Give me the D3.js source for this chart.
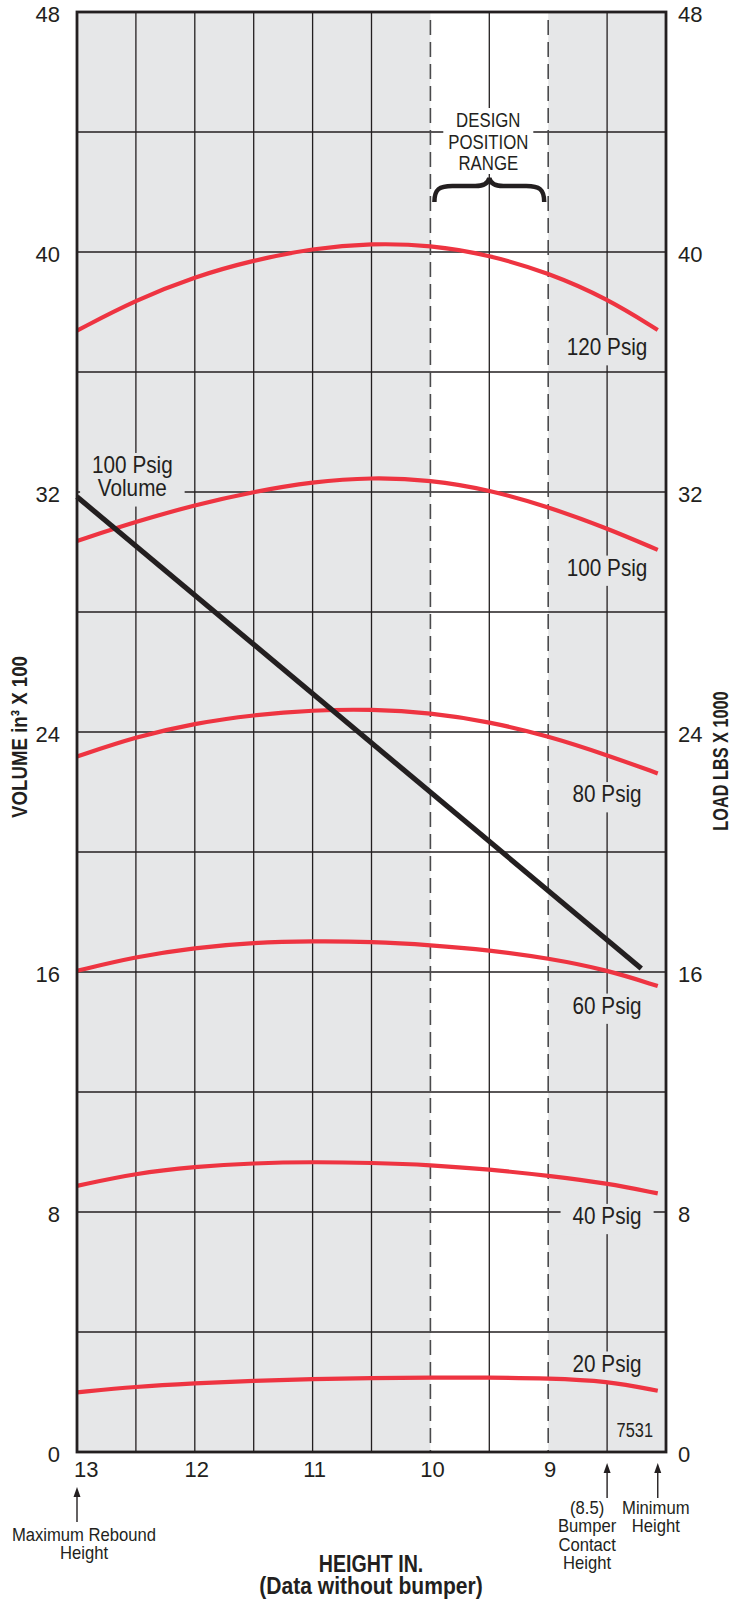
<!DOCTYPE html>
<html>
<head>
<meta charset="utf-8">
<script src="https://cdn.jsdelivr.net/npm/d3@7"></script>
<style>
  body { margin: 0; background: #fff; }
  svg { display: block; }
  text { fill: #231f20; font-family: "Liberation Sans", Arial, sans-serif; }
</style>
</head>
<body>
<div id="chart"></div>
<script>
// height (in) at which each load was read, 13 = max rebound, 8.07 = minimum height
var heights = [13, 12.5, 12, 11.5, 11, 10.5, 10, 9.5, 9, 8.5, 8.07];

// load, lbs x 1000
var load120 = [37.38, 38.40, 39.18, 39.73, 40.12, 40.29, 40.23, 39.90, 39.31, 38.45, 37.40];
var load100 = [30.37, 31.01, 31.57, 32.01, 32.34, 32.49, 32.40, 32.07, 31.51, 30.79, 30.07];
var load80 = [23.18, 23.84, 24.29, 24.57, 24.73, 24.76, 24.64, 24.34, 23.87, 23.23, 22.62];
var load60 = [16.04, 16.51, 16.81, 16.98, 17.03, 17.01, 16.90, 16.73, 16.46, 16.07, 15.53];
var load40 = [8.87, 9.29, 9.51, 9.63, 9.67, 9.64, 9.57, 9.42, 9.21, 8.96, 8.62];
var load20 = [1.99, 2.18, 2.29, 2.38, 2.43, 2.47, 2.48, 2.48, 2.46, 2.37, 2.04];
var pressures = ["120 Psig", "100 Psig", "80 Psig", "60 Psig", "40 Psig", "20 Psig"];

// volume at 100 psig, in3 x 100
var volumeHeights = [13, 8.21];
var volume100 = [31.84, 16.12];

var xTicks = [13, 12, 11, 10, 9];
var xGrid = [12.5, 12, 11.5, 11, 10.5, 9.5, 8.5];
var yTicks = [0, 8, 16, 24, 32, 40, 48];
var yGrid = [4, 8, 12, 16, 20, 24, 28, 32, 36, 40, 44];
var designRange = [10, 9];
var bumperHeight = 8.5;
var minHeight = 8.07;

// where the pressure labels sit (load value of the label centre, at 8.5 in)
var labelLoads = [36.83, 29.48, 21.93, 14.88, 7.87, 2.95];

var margin = {top: 12, right: 66, bottom: 151, left: 77},
  width = 732 - margin.left - margin.right,
  height = 1603 - margin.top - margin.bottom;

var ink = "#231f20", panel = "#e6e7e8", red = "#ee3441";

var x = d3.scaleLinear().domain([13, 8]).range([0, width]);
var y = d3.scaleLinear().domain([0, 48]).range([height, 0]);

var root = d3.select("#chart").append("svg")
    .attr("width", 732)
    .attr("height", 1603);

var svg = root.append("g")
    .attr("transform", "translate(" + margin.left + "," + margin.top + ")");

// condensed text: the original uses a condensed face, so squeeze horizontally
function ctext(parent, px, py, lines, size, sx, opts) {
  opts = opts || {};
  var g = parent.append("g")
      .attr("transform", "translate(" + px + "," + py + ")" + (opts.rotate ? " rotate(" + opts.rotate + ")" : "") + " scale(" + sx + ",1)");
  var t = g.append("text")
      .attr("text-anchor", opts.anchor || "middle")
      .style("font-size", size + "px")
      .style("font-weight", opts.bold ? "bold" : null);
  lines.forEach(function(l, i) {
    t.append("tspan")
        .attr("x", 0)
        .attr("y", i * (opts.lh || size))
        .text(l);
  });
  return t;
}

// panel + white design band
svg.append("rect")
    .attr("width", width)
    .attr("height", height)
    .attr("fill", panel);

svg.append("rect")
    .attr("x", x(designRange[0]))
    .attr("width", x(designRange[1]) - x(designRange[0]))
    .attr("height", height)
    .attr("fill", "#fff");

// grid
svg.selectAll(".vgrid")
    .data(xGrid)
  .enter().append("line")
    .attr("class", "vgrid")
    .attr("x1", function(d) { return x(d); })
    .attr("x2", function(d) { return x(d); })
    .attr("y1", 0)
    .attr("y2", height)
    .attr("stroke", ink)
    .attr("stroke-width", 1.3);

svg.selectAll(".hgrid")
    .data(yGrid)
  .enter().append("line")
    .attr("class", "hgrid")
    .attr("x1", 0)
    .attr("x2", width)
    .attr("y1", function(d) { return y(d); })
    .attr("y2", function(d) { return y(d); })
    .attr("stroke", ink)
    .attr("stroke-width", 1.3);

svg.selectAll(".dash")
    .data(designRange)
  .enter().append("line")
    .attr("class", "dash")
    .attr("x1", function(d) { return x(d); })
    .attr("x2", function(d) { return x(d); })
    .attr("y1", 8)
    .attr("y2", height)
    .attr("stroke", "#4a4a4c")
    .attr("stroke-width", 1.6)
    .attr("stroke-dasharray", "15,7");

// design position range
var xm = x((designRange[0] + designRange[1]) / 2);
var design = svg.append("g");
design.append("rect")
    .attr("x", xm - 46)
    .attr("y", 96)
    .attr("width", 90)
    .attr("height", 66)
    .attr("fill", "#fff");
ctext(design, xm - 1, 115, ["DESIGN", "POSITION", "RANGE"], 21, 0.8, {lh: 21.7});

var bl = x(designRange[0]) + 4, br = x(designRange[1]) - 4,
  yTop = 166, yMid = 174, yEnd = 190;
design.append("path")
    .attr("d", "M" + bl + "," + yEnd +
      " C" + bl + "," + (yMid + 3) + " " + (bl + 5) + "," + yMid + " " + (bl + 18) + "," + yMid +
      " L" + (xm - 14) + "," + yMid +
      " C" + (xm - 5) + "," + yMid + " " + (xm - 1) + "," + (yMid - 3) + " " + xm + "," + yTop +
      " C" + (xm + 1) + "," + (yMid - 3) + " " + (xm + 5) + "," + yMid + " " + (xm + 14) + "," + yMid +
      " L" + (br - 18) + "," + yMid +
      " C" + (br - 5) + "," + yMid + " " + br + "," + (yMid + 3) + " " + br + "," + yEnd)
    .attr("fill", "none")
    .attr("stroke", ink)
    .attr("stroke-width", 4.5);

var loadSeries = [load120, load100, load80, load60, load40, load20].map(function(v, i) {
  return {
    name: pressures[i],
    label: labelLoads[i],
    values: heights.map(function(h, j) { return [h, v[j]]; })
  };
});

// label knock-outs go under the curves, text goes on top
var knock = svg.append("g");
var lineG = svg.append("g");
var lab = svg.append("g");

function knockout(t, sx) {
  var b = t.node().getBBox();
  var p = t.node().parentNode.transform.baseVal.consolidate().matrix;
  knock.append("rect")
      .attr("x", p.e + b.x * sx - 12)
      .attr("y", p.f + b.y + 1)
      .attr("width", b.width * sx + 24)
      .attr("height", b.height + 4)
      .attr("fill", panel);
}

loadSeries.forEach(function(s) {
  var t = ctext(lab, x(bumperHeight), y(s.label) + 8, [s.name], 23, 0.9);
  knockout(t, 0.9);
});

var vt = ctext(lab, x(12.53), y(32.5) - 4, ["100 Psig", "Volume"], 23, 0.9, {lh: 23.3});
knockout(vt, 0.9);

ctext(lab, width - 13, height - 15, ["7531"], 19.5, 0.84, {anchor: "end"});

// curves
var line = d3.line()
    .x(function(d) { return x(d[0]); })
    .y(function(d) { return y(d[1]); })
    .curve(d3.curveBasis);

lineG.selectAll(".load")
    .data(loadSeries)
  .enter().append("path")
    .attr("class", "load")
    .attr("d", function(d) { return line(d.values); })
    .attr("fill", "none")
    .attr("stroke", red)
    .attr("stroke-width", 4.2);

lineG.append("path")
    .datum(volumeHeights.map(function(h, i) { return [h, volume100[i]]; }))
    .attr("d", d3.line().x(function(d) { return x(d[0]); }).y(function(d) { return y(d[1]); }))
    .attr("fill", "none")
    .attr("stroke", ink)
    .attr("stroke-width", 5.2);

// frame
svg.append("rect")
    .attr("width", width)
    .attr("height", height)
    .attr("fill", "none")
    .attr("stroke", ink)
    .attr("stroke-width", 2.8);

// tick labels
svg.selectAll(".ytl")
    .data(yTicks)
  .enter().append("text")
    .attr("class", "ytl")
    .attr("x", -17)
    .attr("y", function(d) { return y(d) + 10; })
    .attr("text-anchor", "end")
    .style("font-size", "22px")
    .text(function(d) { return d; });

svg.selectAll(".ytr")
    .data(yTicks)
  .enter().append("text")
    .attr("class", "ytr")
    .attr("x", width + 12)
    .attr("y", function(d) { return y(d) + 10; })
    .style("font-size", "22px")
    .text(function(d) { return d; });

svg.selectAll(".xt")
    .data(xTicks)
  .enter().append("text")
    .attr("class", "xt")
    .attr("x", function(d, i) { return i === 0 ? x(d) - 3 : x(d) + 2; })
    .attr("y", height + 25)
    .attr("text-anchor", function(d, i) { return i === 0 ? "start" : "middle"; })
    .style("font-size", "22px")
    .text(function(d) { return d; });

// axis titles
ctext(root, 27, 737, ["VOLUME in\u00b3 X 100"], 22, 0.85, {bold: true, rotate: -90});
ctext(root, 728, 761, ["LOAD LBS X 1000"], 22, 0.74, {bold: true, rotate: -90});
ctext(root, 371, 1572, ["HEIGHT IN."], 24.5, 0.8, {bold: true});
ctext(root, 371, 1594, ["(Data without bumper)"], 24.5, 0.86, {bold: true});

// arrows and notes under the x axis
function arrow(h, tipY, tailY) {
  var ax = x(h);
  svg.append("line")
      .attr("x1", ax).attr("x2", ax)
      .attr("y1", tipY + 6).attr("y2", tailY)
      .attr("stroke", ink)
      .attr("stroke-width", 1.4);
  svg.append("path")
      .attr("d", "M" + ax + "," + tipY + " L" + (ax - 3.5) + "," + (tipY + 10) + " L" + (ax + 3.5) + "," + (tipY + 10) + " Z")
      .attr("fill", ink);
}

arrow(13, height + 35, height + 70);
arrow(bumperHeight, height + 11, height + 46);
arrow(minHeight, height + 11, height + 46);

ctext(svg, x(13) + 7, height + 89, ["Maximum Rebound", "Height"], 18.5, 0.9, {lh: 18.2});
ctext(svg, x(bumperHeight) - 20, height + 62, ["(8.5)", "Bumper", "Contact", "Height"], 18.5, 0.9, {lh: 18.4});
ctext(svg, x(minHeight) - 2, height + 62, ["Minimum", "Height"], 18.5, 0.9, {lh: 18.4});
</script>
</body>
</html>
